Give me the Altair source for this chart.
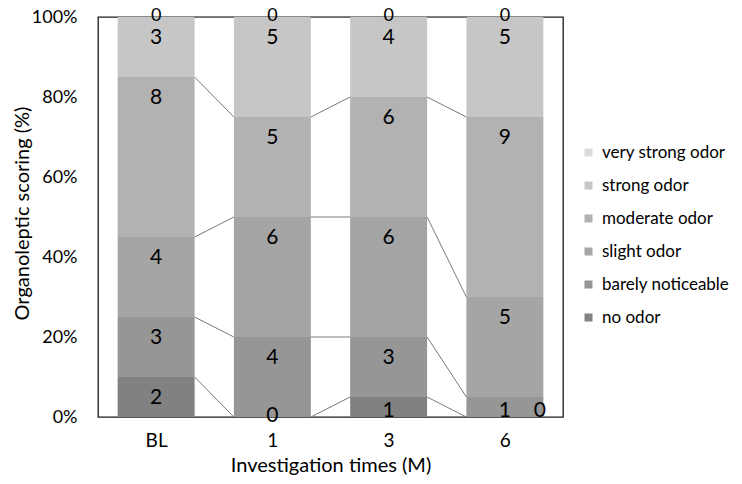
import json
import altair as alt
import pandas as pd

categories = ["BL", "1", "3", "6"]
levels = ["no odor", "barely noticeable", "slight odor", "moderate odor", "strong odor", "very strong odor"]
no_odor = [2, 0, 1, 0]
barely_noticeable = [3, 4, 3, 1]
slight_odor = [4, 6, 6, 5]
moderate_odor = [8, 5, 6, 9]
strong_odor = [3, 5, 4, 5]
very_strong_odor = [0, 0, 0, 0]
colors = ["#818181", "#969696", "#a5a5a5", "#b2b2b2", "#c6c6c6", "#dadada"]
y_ticks = [0, 0.2, 0.4, 0.6, 0.8, 1.0]

series = [no_odor, barely_noticeable, slight_odor, moderate_odor, strong_odor, very_strong_odor]
HALF = 0.331

rows = []
for i, cat in enumerate(categories):
    total = sum(s[i] for s in series)
    cum = 0
    for j, (lvl, s) in enumerate(zip(levels, series)):
        start = cum / total
        cum += s[i]
        end = cum / total
        rows.append(dict(cat=cat, idx=i, level=lvl, order=j, count=s[i],
                         y0=start, y1=end, share=end - start,
                         xl=i - HALF, xr=i + HALF))
df = pd.DataFrame(rows)

lines = []
for lvl in levels:
    sub = list(df[df.level == lvl].sort_values("idx").itertuples())
    for a, b in zip(sub, sub[1:]):
        lines.append(dict(level=lvl, x=a.idx + HALF, x2=b.idx - HALF, y=a.y1, y2=b.y1))
lines_df = pd.DataFrame(lines)

W, H = 465, 400
xscale = alt.Scale(domain=[-0.5, len(categories) - 0.5], nice=False, zero=False)
yscale = alt.Scale(domain=[0, 1], nice=False)
label_expr = "%s[datum.value]" % json.dumps(categories)

x_axis = alt.Axis(values=list(range(len(categories))), labelExpr=label_expr,
                  title="Investigation times (M)", labelPadding=14,
                  titleY=48, titleBaseline="middle")
y_axis = alt.Axis(values=y_ticks, format=".0%", title="Organoleptic scoring (%)",
                  labelPadding=21, titleX=-76, titleY=196, labelFontSize=18,
                  titleBaseline="middle", titleAlign="center", titleAngle=-90)

bars = alt.Chart(df).mark_bar(strokeWidth=0).encode(
    x=alt.X("xl:Q", scale=xscale, axis=x_axis),
    x2="xr:Q",
    y=alt.Y("y0:Q", scale=yscale, axis=y_axis),
    y2="y1:Q",
    color=alt.Color("level:N",
                    scale=alt.Scale(domain=levels[::-1], range=colors[::-1]),
                    legend=alt.Legend(title=None, orient="none", legendX=482, legendY=127,
                                      symbolType="square", symbolSize=64,
                                      symbolStrokeWidth=0, labelFont="Lato",
                                      labelFontSize=17, labelColor="#000",
                                      labelOffset=5, rowPadding=15)),
)

rules = alt.Chart(lines_df).mark_rule(color="#7a7a7a", strokeWidth=1).encode(
    x=alt.X("x:Q", scale=xscale), x2="x2:Q",
    y=alt.Y("y:Q", scale=yscale), y2="y2:Q",
)

last_cat = json.dumps(categories[-1])

text_base = alt.Chart(df).encode(
    x=alt.X("idx:Q", scale=xscale),
    y=alt.Y("y1:Q", scale=yscale),
    text="count:Q",
)
style = dict(font="Lato", fontSize=21, color="#000", baseline="middle")
txt_big = text_base.transform_filter("datum.count > 0 && datum.share >= 0.09").mark_text(dy=21, **style)
txt_small = text_base.transform_filter("datum.count > 0 && datum.share < 0.09").mark_text(dy=14, **style)
txt_top = text_base.transform_filter("datum.count == 0 && datum.y1 >= 1").mark_text(
    font="Lato", fontSize=18, color="#000", baseline="middle", dy=-1)
txt_bottom = text_base.transform_filter(
    f"datum.count == 0 && datum.y1 <= 0 && datum.cat != {last_cat}").mark_text(dy=-1, **style)
txt_side = text_base.transform_filter(
    f"datum.count == 0 && datum.y1 <= 0 && datum.cat == {last_cat}").mark_text(dx=35, dy=-6, **style)

chart = alt.layer(bars, rules, txt_big, txt_small, txt_top, txt_bottom, txt_side).properties(
    width=W, height=H, autosize="none",
    padding={"left": 90, "top": 9, "right": 171, "bottom": 59},
).configure_view(stroke="#1a1a1a", strokeWidth=1.3).configure_axis(
    grid=False, domain=False, ticks=False, tickSize=0,
    labelFont="Lato", labelFontSize=19, labelColor="#000",
    titleFont="Lato", titleFontSize=20, titleFontWeight="normal", titleColor="#000",
)

chart.save("out.html", embed_options={"renderer": "svg", "actions": False})
